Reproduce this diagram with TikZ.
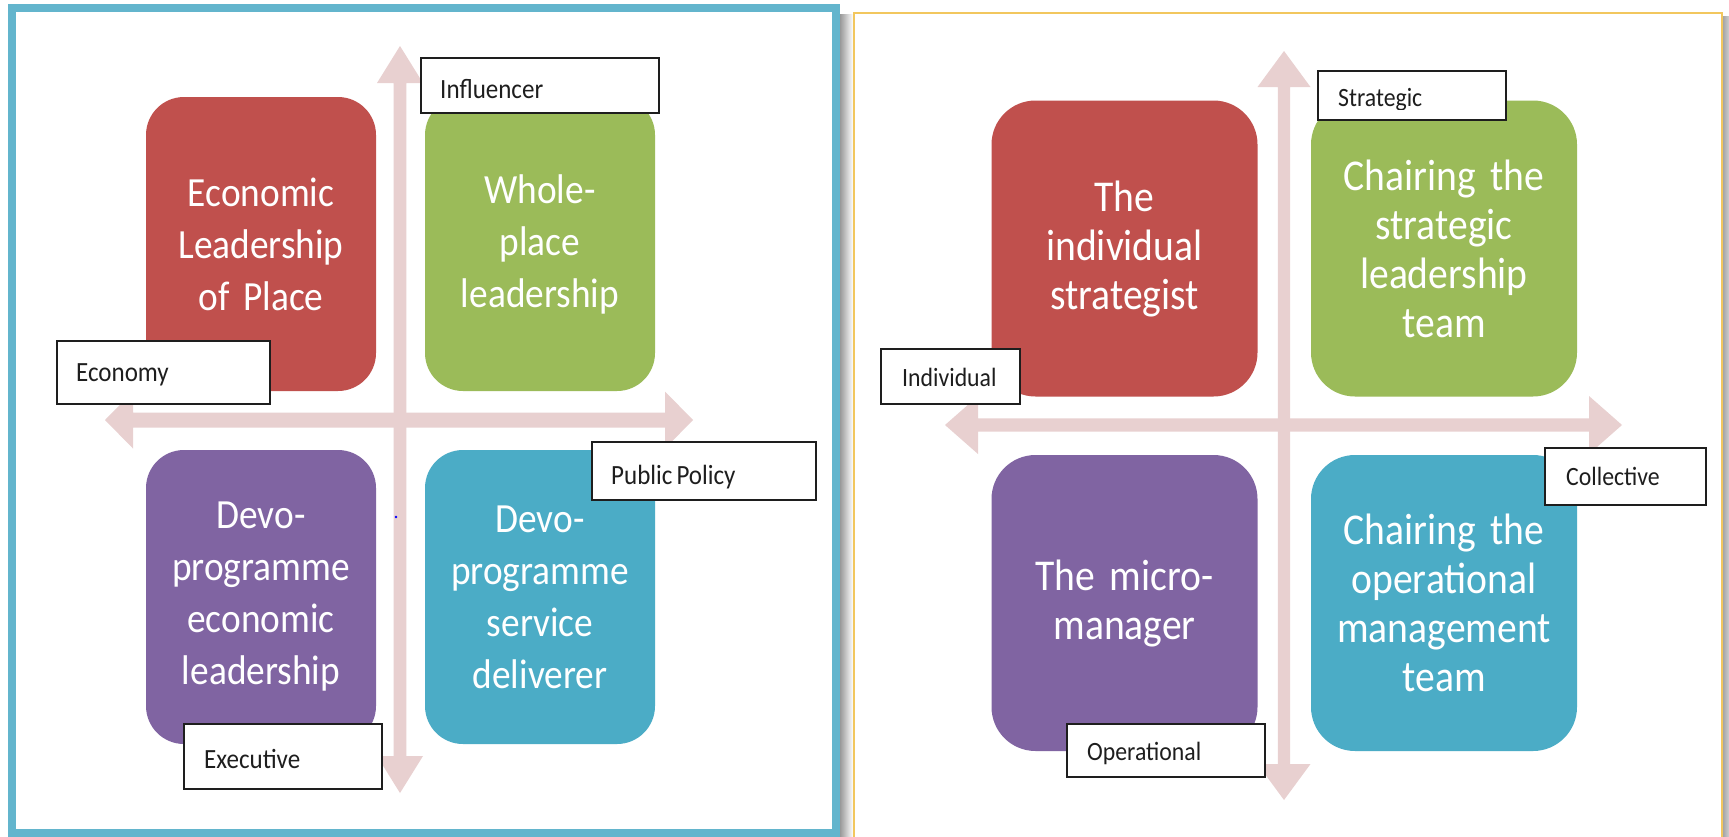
\documentclass[tikz,border=0pt]{standalone}
\usepackage{fontspec}
\setmainfont{Carlito}[FakeStretch=0.9, WordSpace=0.72]
\definecolor{qred}{HTML}{C0504D}
\definecolor{qgreen}{HTML}{9BBB59}
\definecolor{qpurple}{HTML}{8064A2}
\definecolor{qteal}{HTML}{4BACC6}
\definecolor{axiscol}{HTML}{E8D0D0}
\definecolor{frameblue}{HTML}{63B5CD}
\definecolor{frameyellow}{HTML}{F2C75E}
\definecolor{tagink}{HTML}{1E1E1E}
\begin{document}
\begin{tikzpicture}[x=1pt,y=-1pt,
  axis/.style={fill=axiscol},
  quadL/.style={rounded corners=38pt, minimum width=230pt, minimum height=294pt,
    text width=214pt, align=center, text=white, inner sep=0pt,
    font=\fontsize{41.5pt}{52pt}\selectfont},
  quadR/.style={rounded corners=44pt, minimum width=266pt, minimum height=296pt,
    text width=248pt, align=center, text=white, inner sep=0pt,
    font=\fontsize{44pt}{49pt}\selectfont},
  tag/.style={draw=tagink, line width=1.7pt, fill=white, inner sep=0pt},
  tagtextL/.style={anchor=base west, inner sep=0pt, text=tagink, font=\fontsize{27.8pt}{32pt}\selectfont},
  tagtextR/.style={anchor=base west, inner sep=0pt, text=tagink, font=\fontsize{26.4pt}{30pt}\selectfont}]
\useasboundingbox (0,0) rectangle (1729,836);
\fill[white] (0,0) rectangle (1729,836);

% drop shadows beside the two panels
\shade[left color=black!40, right color=white] (840,14) rectangle (853,836);
\shade[left color=black!35, right color=white] (1723,16) rectangle (1736,836);

% panel frames
\draw[line width=8pt, frameblue] (12,8) rectangle (836,833);
\draw[line width=2pt, frameyellow] (853.5,12.5) rectangle (1722,846);

% ---------- left matrix ----------
% axes
\fill[axis] (400,46) -- (423,83) -- (406.4,83) -- (406.4,756) -- (423,756) -- (400,793)
  -- (377,756) -- (393.6,756) -- (393.6,83) -- (377,83) -- cycle;
\fill[axis] (105,420) -- (133,391.5) -- (133,412.5) -- (665,412.5) -- (665,391.5) -- (693,420)
  -- (665,448.5) -- (665,427.5) -- (133,427.5) -- (133,448.5) -- cycle;

% quadrants
\node[quadL, fill=qred]    (econ)  at (261,244) {Economic\\Leadership\\of Place};
\node[quadL, fill=qgreen]  (whole) at (540,244) {Whole-\\place\\leadership};
\node[quadL, fill=qpurple] (devoE) at (261,597) {Devo-\\programme\\economic\\leadership};
\node[quadL, fill=qteal]   (devoS) at (540,597) {Devo-\\programme\\service\\deliverer};

\fill[blue] (396,517) circle (1.3pt);

% axis tags
\node[tag, minimum width=238pt, minimum height=55pt] (influencer) at (540,85.5) {};
\node[tagtextL] (influencer-t) at (440,98.3) {Influencer};
\node[tag, minimum width=213pt, minimum height=63pt] (economy) at (163.5,372.5) {};
\node[tagtextL] (economy-t) at (76,381.7) {Economy};
\node[tag, minimum width=224pt, minimum height=58pt] (policy) at (704,471) {};
\node[tagtextL] (policy-t) at (611,484) {Public Policy};
\node[tag, minimum width=198pt, minimum height=65pt] (executive) at (283,756.5) {};
\node[tagtextL] (executive-t) at (204,768) {Executive};

% ---------- right matrix ----------
% axes
\fill[axis] (1284,51) -- (1310.5,87) -- (1290.2,87) -- (1290.2,764) -- (1310.5,764) -- (1284,800)
  -- (1257.5,764) -- (1277.8,764) -- (1277.8,87) -- (1257.5,87) -- cycle;
\fill[axis] (945,425) -- (978,396) -- (978,418.3) -- (1589,418.3) -- (1589,396) -- (1622,425)
  -- (1589,454) -- (1589,431.7) -- (978,431.7) -- (978,454) -- cycle;

% quadrants
\node[quadR, fill=qred]    (indiv)  at (1124.5,248.5) {The\\individual\\strategist};
\node[quadR, fill=qgreen]  (chairS) at (1444,248.5) {Chairing the\\strategic\\leadership\\team};
\node[quadR, fill=qpurple] (micro)  at (1124.5,603) {The micro-\\manager};
\node[quadR, fill=qteal]   (chairO) at (1444,603) {Chairing the\\operational\\management\\team};

% axis tags
\node[tag, minimum width=188pt, minimum height=49pt] (strategic) at (1412,95.5) {};
\begin{scope}
  \clip (1319,72) rectangle (1505,109.3);
  \node[tagtextR] (strategic-t) at (1338,106.7) {Strategic};
\end{scope}
\node[tag, minimum width=139pt, minimum height=55pt] (individual) at (950.5,376.5) {};
\node[tagtextR] (individual-t) at (902,386) {Individual};
\node[tag, minimum width=161pt, minimum height=57pt] (collective) at (1625.5,476.5) {};
\node[tagtextR] (collective-t) at (1566,485) {Collective};
\node[tag, minimum width=198pt, minimum height=53pt] (operational) at (1166,750.5) {};
\node[tagtextR] (operational-t) at (1087,760) {Operational};
\end{tikzpicture}
\end{document}
